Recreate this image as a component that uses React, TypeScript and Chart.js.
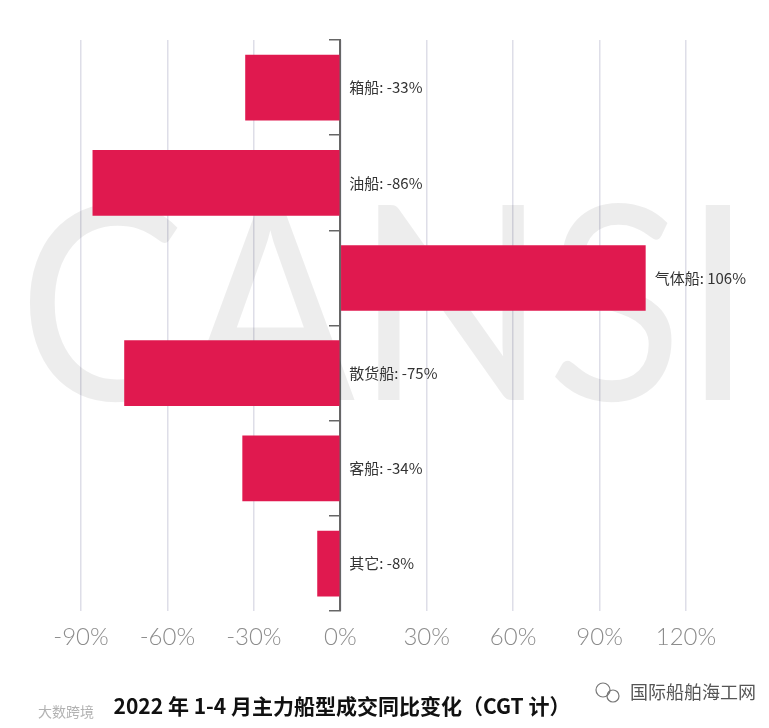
import React, { useEffect, useRef } from "react";
import { Chart, registerables } from "chart.js";

Chart.register(...registerables);

const categories = ["箱船", "油船", "气体船", "散货船", "客船", "其它"];
const changeValues = [-33, -86, 106, -75, -34, -8];
const tickValues = [-90, -60, -30, 0, 30, 60, 90, 120];
const chartTitle = "2022 年 1-4 月主力船型成交同比变化（CGT 计）";
const watermarkText = "CANSI";
const sourceText = "国际船舶海工网";
const cornerText = "大数跨境";

const BAR_COLOR = "#e0194f";

const watermarkPlugin = {
  id: "watermark",
  beforeDatasetsDraw(chart: any) {
    const { ctx } = chart;
    ctx.save();
    ctx.font = "400 272px Lato, 'DejaVu Sans', sans-serif";
    ctx.fillStyle = "rgba(0,0,0,0.07)";
    ctx.textBaseline = "alphabetic";
    const w = ctx.measureText(watermarkText).width;
    const targetW = 735;
    ctx.translate(18, 400);
    ctx.scale(targetW / w, 1);
    ctx.fillText(watermarkText, 0, 0);
    ctx.restore();
  },
};

const labelPlugin = {
  id: "barLabels",
  afterDatasetsDraw(chart: any) {
    const { ctx } = chart;
    const xScale = chart.scales.x;
    const meta = chart.getDatasetMeta(0);
    const zero = xScale.getPixelForValue(0);
    ctx.save();
    ctx.font = "15px 'Noto Sans CJK SC', sans-serif";
    ctx.fillStyle = "#333333";
    ctx.textBaseline = "middle";
    ctx.textAlign = "left";
    meta.data.forEach((bar: any, i: number) => {
      const v = changeValues[i];
      const x = v < 0 ? zero + 9 : bar.x + 9;
      ctx.fillText(`${categories[i]}: ${v}%`, x, bar.y);
    });
    ctx.restore();
  },
  afterDraw(chart: any) {
    const { ctx } = chart;
    ctx.save();
    ctx.font = "bold 21px 'Noto Sans CJK SC', sans-serif";
    ctx.fillStyle = "#111111";
    ctx.textAlign = "center";
    ctx.textBaseline = "middle";
    ctx.fillText(chartTitle, 342, 706);

    ctx.font = "18px 'Noto Sans CJK SC', sans-serif";
    ctx.fillStyle = "#555555";
    ctx.textAlign = "left";
    ctx.fillText(sourceText, 630, 692);
    ctx.strokeStyle = "#777777";
    ctx.lineWidth = 1.2;
    ctx.beginPath();
    ctx.arc(603, 690, 7, 0, Math.PI * 2);
    ctx.stroke();
    ctx.beginPath();
    ctx.arc(613, 696, 6, 0, Math.PI * 2);
    ctx.stroke();

    ctx.font = "14px 'Noto Sans CJK SC', sans-serif";
    ctx.fillStyle = "rgba(170,170,170,0.9)";
    ctx.fillText(cornerText, 38, 712);
    ctx.restore();
  },
};

export default function App() {
  const ref = useRef<HTMLCanvasElement | null>(null);
  useEffect(() => {
    if (!ref.current) return;
    const chart = new Chart(ref.current, {
      type: "bar",
      data: {
        labels: categories,
        datasets: [
          {
            data: changeValues,
            backgroundColor: BAR_COLOR,
            borderWidth: 0,
            barPercentage: 0.69,
            categoryPercentage: 1,
          },
        ],
      },
      options: {
        indexAxis: "y",
        animation: false,
        responsive: false,
        maintainAspectRatio: false,
        layout: { padding: { left: 81, right: 83, top: 40, bottom: 64 } },
        plugins: {
          legend: { display: false },
          tooltip: { enabled: false },
          title: { display: false },
        },
        scales: {
          x: {
            min: -90,
            max: 120,
            afterBuildTicks: (scale: any) => {
              scale.ticks = tickValues.map((v) => ({ value: v }));
            },
            grid: {
              color: "#dedee8",
              lineWidth: 1.5,
              drawTicks: false,
            },
            border: { display: false },
            ticks: {
              padding: 12,
              color: "#8c8c8c",
              font: { size: 24, family: "Lato, 'Liberation Sans', sans-serif", weight: "300" },
              callback: (v: any) => `${v}%`,
            },
          },
          y: {
            position: { x: 0 } as any,
            grid: {
              drawOnChartArea: false,
              drawTicks: true,
              tickLength: 10,
              color: "#666666",
              lineWidth: 1.5,
            },
            border: { display: true, color: "#666666", width: 2 },
            ticks: { display: false },
          },
        },
      },
      plugins: [watermarkPlugin, labelPlugin],
    });
    return () => chart.destroy();
  }, []);
  return (
    <div style={{ position: "fixed", left: 0, top: 0, width: 769, height: 728, background: "#fff" }}>
      <canvas ref={ref} width={769} height={728} style={{ width: 769, height: 728 }} />
    </div>
  );
}
